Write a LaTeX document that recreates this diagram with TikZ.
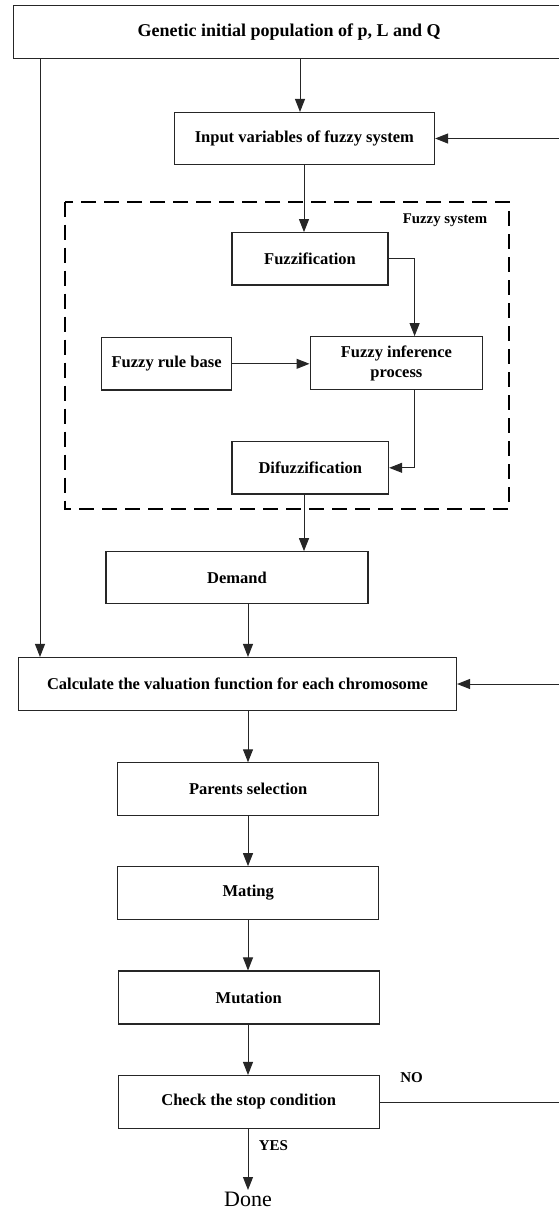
\documentclass[tikz,border=0pt]{standalone}
\usepackage{fontspec}
\setmainfont{Liberation Serif}
\usetikzlibrary{arrows.meta,calc}
\tikzset{
  boxnode/.style={draw=black!85, line width=1.1pt, inner sep=0pt, align=center,
    font=\fontsize{16.5}{20}\selectfont\bfseries},
  arr/.style={draw=black!85, line width=1pt, -{Triangle[length=13pt,width=10pt]}},
  plainline/.style={draw=black!85, line width=1pt},
  dashbox/.style={draw=black, line width=2pt, dash pattern=on 15pt off 8pt},
  lbl/.style={inner sep=0pt, font=\fontsize{15}{17}\selectfont\bfseries},
}
\begin{document}
\begin{tikzpicture}[x=1pt,y=-1pt]
\useasboundingbox (0,0) rectangle (559,1211);
% column coordinates
\coordinate (xL) at (40,0);
\coordinate (xT) at (300,0);
\coordinate (xI) at (304,0);
\coordinate (xR) at (414.6,0);
\coordinate (xM) at (248,0);
\coordinate (xE) at (566,0);

\node[boxnode, minimum width=551.7pt, minimum height=52.6pt, font=\fontsize{18}{21}\selectfont\bfseries] (top) at (289.2,32) {Genetic initial population of p, L and Q};
\node[boxnode, minimum width=260.5pt, minimum height=52pt] (input) at (304.3,138.5) {Input variables of fuzzy system};

\draw[dashbox] (65,201.7) rectangle (509,509.3);
\node[lbl, font=\fontsize{14.8}{17}\selectfont\bfseries] (fslabel) at (445,220) {Fuzzy system};

\node[boxnode, minimum width=156pt, minimum height=52.3pt] (fuzz) at (310,258.8) {Fuzzification};
\node[boxnode, minimum width=130pt, minimum height=52.3pt] (rule) at (166.6,363.8) {Fuzzy rule base};
\node[boxnode, minimum width=172.7pt, minimum height=52.6pt] (infer) at (396.4,363) {Fuzzy inference\\process};
\node[boxnode, minimum width=156.6pt, minimum height=52.3pt] (difuzz) at (310.3,467.8) {Difuzzification};
\node[boxnode, minimum width=262pt, minimum height=51.6pt] (demand) at (237,577.5) {Demand};
\node[boxnode, minimum width=438pt, minimum height=53pt] (calc) at (237.5,684) {Calculate the valuation function for each chromosome};
\node[boxnode, minimum width=261pt, minimum height=52.3pt] (parents) at (248.2,789) {Parents selection};
\node[boxnode, minimum width=261pt, minimum height=52.6pt] (mating) at (248.2,893) {Mating};
\node[boxnode, minimum width=261pt, minimum height=53pt] (mutation) at (248.7,997.5) {Mutation};
\node[boxnode, minimum width=261pt, minimum height=53pt] (check) at (248.7,1102) {Check the stop condition};
\node[inner sep=2pt, font=\fontsize{22}{25}\selectfont] (done) at (248,1199.5) {Done};

\node[lbl] (nolbl) at (411.5,1078) {NO};
\node[lbl] (yeslbl) at (273.5,1146) {YES};

% connectors
\draw[arr] (top.south -| xT) -- (input.north -| xT);
\draw[arr] (xE |- input.east) -- (input.east);
\draw[arr] (input.south -| xI) -- (fuzz.north -| xI);
\draw[arr] (fuzz.east) -| (infer.north -| xR);
\draw[arr] (rule.east) -- (rule.east -| infer.west);
\draw[arr] (infer.south -| xR) |- (difuzz.east);
\draw[arr] (difuzz.south -| xI) -- (demand.north -| xI);
\draw[arr] (demand.south -| xM) -- (calc.north -| xM);
\draw[arr] (top.south -| xL) -- (calc.north -| xL);
\draw[arr] (xE |- calc.east) -- (calc.east);
\draw[arr] (calc.south -| xM) -- (parents.north -| xM);
\draw[arr] (parents.south -| xM) -- (mating.north -| xM);
\draw[arr] (mating.south -| xM) -- (mutation.north -| xM);
\draw[arr] (mutation.south -| xM) -- (check.north -| xM);
\draw[plainline] (check.east) -- (xE |- check.east);
\draw[arr] (check.south -| xM) -- (done.north -| xM);
\end{tikzpicture}
\end{document}
